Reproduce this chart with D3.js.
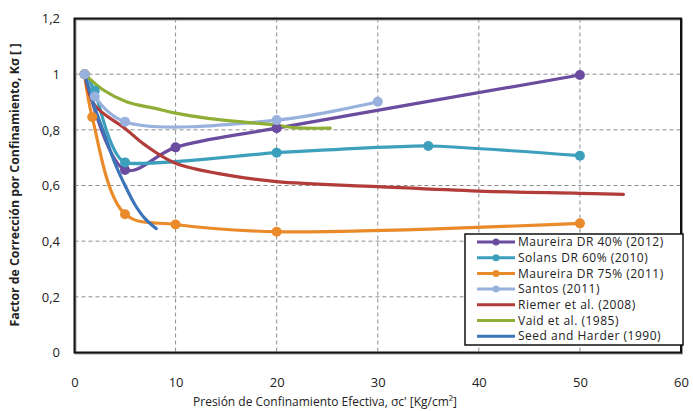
<!DOCTYPE html>
<html>
<head>
<meta charset="utf-8">
<script src="https://cdn.jsdelivr.net/npm/d3@7"></script>
<style>
  body { margin: 0; background: #fff; }
  text { font-family: "Open Sans", "Liberation Sans", sans-serif; fill: #222; }
</style>
</head>
<body>
<svg id="chart" width="693" height="411"></svg>
<script>
// series values [presion, factor]
const maureira40 = [[1, 1.0], [5, 0.656], [10, 0.737], [20, 0.806], [50, 0.997]];
const solans60 = [[1, 1.0], [2, 0.94], [5, 0.683], [20, 0.718], [35, 0.742], [50, 0.707]];
const maureira75 = [[1, 1.0], [1.75, 0.846], [5, 0.497], [10, 0.46], [20, 0.434], [50, 0.464]];
const santos = [[1, 1.0], [2, 0.92], [5, 0.829], [20, 0.835], [30, 0.901]];
const riemer = [[1, 1.0], [2, 0.889], [5, 0.805], [7, 0.745], [10, 0.68], [15, 0.638], [20, 0.614],
  [30, 0.596], [40, 0.58], [50, 0.572], [54.3, 0.568]];
const vaid = [[1, 1.0], [2.85, 0.943], [5.2, 0.9], [8, 0.877], [10, 0.86], [13.4, 0.84], [17, 0.827],
  [20, 0.817], [21.6, 0.808], [25.3, 0.806]];
const seedHarder = [[1, 1.0], [2, 0.88], [3, 0.78], [4, 0.68], [5, 0.6], [6, 0.53], [7, 0.48], [8.1, 0.445]];

const xTicks = [0, 10, 20, 30, 40, 50, 60];
const yTicks = [0, 0.2, 0.4, 0.6, 0.8, 1, 1.2];

const smooth = d3.curveCatmullRom.alpha(0.5);
const soft = d3.curveCardinal.tension(0.5);

const series = [
  {name: "Maureira DR 40% (2012)", data: maureira40, color: "#6b4c9e", marker: true, curve: smooth},
  {name: "Solans DR 60% (2010)", data: solans60, color: "#3ca0bd", marker: true, curve: soft},
  {name: "Maureira DR 75% (2011)", data: maureira75, color: "#ea8b2b", marker: true, curve: smooth},
  {name: "Santos (2011)", data: santos, color: "#98b2dd", marker: true, curve: smooth},
  {name: "Riemer et al. (2008)", data: riemer, color: "#b23c3a", marker: false, curve: smooth},
  {name: "Vaid et al. (1985)", data: vaid, color: "#8fae35", marker: false, curve: smooth},
  {name: "Seed and Harder (1990)", data: seedHarder, color: "#3b74b8", marker: false, curve: smooth}
];

const svg = d3.select("#chart");
const x = d3.scaleLinear().domain([0, 60]).range([74.5, 681]);
const y = d3.scaleLinear().domain([0, 1.2]).range([352.5, 18.5]);
const fmt = d => String(d).replace(".", ",");

// grid
const grid = svg.append("g")
  .attr("stroke", "#8c8c8c")
  .attr("stroke-width", 1)
  .attr("stroke-dasharray", "4,3");
grid.selectAll("line.v")
  .data(xTicks.slice(1, -1))
  .join("line")
  .attr("x1", d => x(d)).attr("x2", d => x(d))
  .attr("y1", y(1.2)).attr("y2", y(0));
grid.selectAll("line.h")
  .data(yTicks.slice(1, -1))
  .join("line")
  .attr("x1", x(0)).attr("x2", x(60))
  .attr("y1", d => y(d)).attr("y2", d => y(d));

// axes (labels only)
const xAxis = svg.append("g")
  .attr("transform", "translate(0," + 387 + ")")
  .call(d3.axisBottom(x).tickValues(xTicks).tickSize(0).tickFormat(fmt));
xAxis.select(".domain").remove();
xAxis.selectAll("text").attr("font-size", 13).attr("dy", 0).attr("y", 0);

const yAxis = svg.append("g")
  .attr("transform", "translate(" + 60 + ",0)")
  .call(d3.axisLeft(y).tickValues(yTicks).tickSize(0).tickFormat(fmt));
yAxis.select(".domain").remove();
yAxis.selectAll("text").attr("font-size", 13).attr("x", 0);

// lines
series.forEach(s => {
  const line = d3.line()
    .x(d => x(d[0]))
    .y(d => y(d[1]))
    .curve(s.curve);
  svg.append("path")
    .datum(s.data)
    .attr("fill", "none")
    .attr("stroke", s.color)
    .attr("stroke-width", 3.2)
    .attr("stroke-linecap", "round")
    .attr("d", line);
});
series.filter(s => s.marker).forEach(s => {
  svg.append("g").selectAll("circle")
    .data(s.data)
    .join("circle")
    .attr("cx", d => x(d[0]))
    .attr("cy", d => y(d[1]))
    .attr("r", 5)
    .attr("fill", s.color);
});

// frame
svg.append("rect")
  .attr("x", x(0) + 1).attr("y", y(1.2) + 1)
  .attr("width", x(60) - x(0)).attr("height", y(0) - y(1.2))
  .attr("fill", "none").attr("stroke", "#9a9a9a").attr("stroke-width", 2);
svg.append("rect")
  .attr("x", x(0)).attr("y", y(1.2))
  .attr("width", x(60) - x(0)).attr("height", y(0) - y(1.2))
  .attr("fill", "none").attr("stroke", "#111").attr("stroke-width", 2);

// legend
const lg = svg.append("g").attr("transform", "translate(465,234)");
lg.append("rect")
  .attr("width", 218).attr("height", 111)
  .attr("fill", "#fff").attr("stroke", "#111").attr("stroke-width", 1.5);
const rows = lg.selectAll("g.row")
  .data(series)
  .join("g")
  .attr("transform", (d, i) => "translate(0," + (8 + i * 15.7) + ")");
rows.append("line")
  .attr("x1", 12).attr("x2", 50)
  .attr("stroke", d => d.color).attr("stroke-width", 3);
rows.filter(d => d.marker).append("circle")
  .attr("cx", 31).attr("r", 3.5).attr("fill", d => d.color);
rows.append("text")
  .attr("x", 53).attr("dy", "0.35em")
  .attr("font-size", 12)
  .attr("letter-spacing", 0.5)
  .text(d => d.name);

// titles
svg.append("text")
  .attr("x", 325).attr("y", 406)
  .attr("text-anchor", "middle")
  .attr("font-size", 12)
  .text("Presión de Confinamiento  Efectiva, σc' [Kg/cm²]");
svg.append("text")
  .attr("transform", "translate(19,185) rotate(-90)")
  .attr("text-anchor", "middle")
  .attr("font-size", 12.3)
  .attr("font-weight", "bold")
  .text("Factor de Corrección por Confinamiento,  Kσ [ ]");
</script>
</body>
</html>
